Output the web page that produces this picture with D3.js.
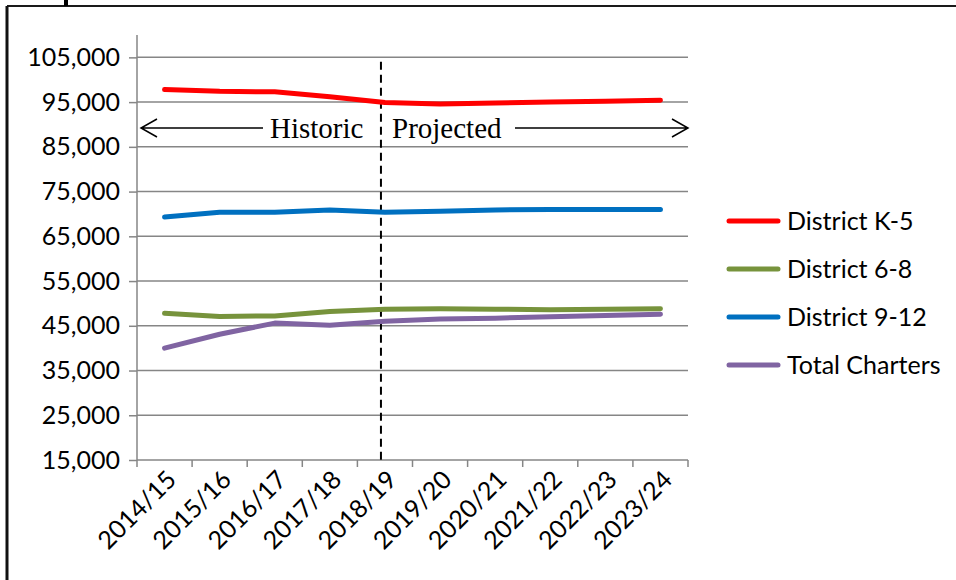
<!DOCTYPE html>
<html>
<head>
<meta charset="utf-8">
<script src="https://d3js.org/d3.v7.min.js"></script>
<style>
  body { margin: 0; background: #fff; }
  text { font-family: Lato, "Noto Sans", sans-serif; }
</style>
</head>
<body>
<svg id="chart" width="956" height="580"></svg>
<script>
// years on the x axis
const years = ["2014/15", "2015/16", "2016/17", "2017/18", "2018/19",
               "2019/20", "2020/21", "2021/22", "2022/23", "2023/24"];

// enrolment
const districtK5   = [97800, 97400, 97300, 96200, 94900, 94600, 94800, 95000, 95200, 95400];
const district68   = [47800, 47100, 47200, 48200, 48700, 48800, 48700, 48600, 48700, 48800];
const district912  = [69300, 70400, 70400, 70900, 70400, 70600, 70900, 71000, 71000, 71000];
const charters     = [40000, 43100, 45600, 45100, 46000, 46500, 46700, 47000, 47300, 47600];

const yTicks = [15000, 25000, 35000, 45000, 55000, 65000, 75000, 85000, 95000, 105000];

const seriesNames = ["District K-5", "District 6-8", "District 9-12", "Total Charters"];
const seriesColors = ["#ff0000", "#77933c", "#0070c0", "#8064a2"];
const seriesValues = [districtK5, district68, district912, charters];

const series = seriesNames.map((name, i) => ({ name, color: seriesColors[i], values: seriesValues[i] }));

const svg = d3.select("#chart");
const plot = { left: 137, right: 688, top: 35, bottom: 460 };
const fontSize = 25;

// outer frame (only top and left edges show in the crop)
svg.append("line").attr("x1", 7).attr("x2", 956).attr("y1", 6).attr("y2", 6)
    .attr("stroke", "#1a1a1a").attr("stroke-width", 2);
svg.append("line").attr("x1", 7).attr("x2", 7).attr("y1", 6).attr("y2", 580)
    .attr("stroke", "#111").attr("stroke-width", 3);
// bit of the cut-off title above the frame
svg.append("rect").attr("x", 64).attr("y", 0).attr("width", 4).attr("height", 6).attr("fill", "#000");

const x = d3.scaleBand().domain(years).range([plot.left, plot.right]);
const y = d3.scaleLinear().domain([15000, 110000]).range([plot.bottom, plot.top]);

// gridlines
svg.append("g")
    .selectAll("line")
    .data(yTicks.slice(1))
    .join("line")
    .attr("x1", plot.left).attr("x2", plot.right)
    .attr("y1", d => y(d)).attr("y2", d => y(d))
    .attr("stroke", "#868686").attr("stroke-width", 1.5);

// y axis
const yAxis = svg.append("g")
    .attr("transform", `translate(${plot.left},0)`)
    .call(d3.axisLeft(y).tickValues(yTicks).tickSize(8).tickPadding(9).tickFormat(d3.format(",")));
yAxis.select(".domain").attr("d", `M0,${plot.top}V${plot.bottom}`);
yAxis.selectAll("line, path").attr("stroke", "#868686").attr("stroke-width", 1.5);
yAxis.selectAll("text").attr("font-size", fontSize).attr("fill", "#000");

// x axis: ticks sit on the category boundaries
const xAxis = svg.append("g").attr("transform", `translate(0,${plot.bottom})`);
xAxis.append("line").attr("x1", plot.left).attr("x2", plot.right)
    .attr("stroke", "#868686").attr("stroke-width", 1.5);
const bounds = years.map(d => x(d)).concat([plot.right]);
xAxis.selectAll(".tick").data(bounds).join("line")
    .attr("class", "tick")
    .attr("x1", d => d).attr("x2", d => d).attr("y1", 0).attr("y2", 7)
    .attr("stroke", "#868686").attr("stroke-width", 1.5);
xAxis.selectAll(".lbl").data(years).join("text")
    .attr("class", "lbl")
    .attr("transform", d => `translate(${x(d) + x.bandwidth() / 2 + 7},${15}) rotate(-45)`)
    .attr("text-anchor", "end")
    .attr("dy", "0.35em")
    .attr("font-size", fontSize)
    .text(d => d);

// historic / projected divider
const divX = x("2018/19") + x.bandwidth() / 2 - 4;
svg.append("line")
    .attr("x1", divX).attr("x2", divX).attr("y1", y(104000)).attr("y2", plot.bottom)
    .attr("stroke", "#000").attr("stroke-width", 2).attr("stroke-dasharray", "8,5");

// series lines
const line = d3.line()
    .x((d, i) => x(years[i]) + x.bandwidth() / 2)
    .y(d => y(d));

svg.append("g")
    .selectAll("path")
    .data(series)
    .join("path")
    .attr("d", d => line(d.values))
    .attr("fill", "none")
    .attr("stroke", d => d.color)
    .attr("stroke-width", 5)
    .attr("stroke-linecap", "round")
    .attr("stroke-linejoin", "round");

// arrow annotation
const arrowY = 128;
const ann = svg.append("g").attr("stroke", "#000").attr("stroke-width", 1.5).attr("fill", "none");
ann.append("path").attr("d", `M141,${arrowY}H263 M157,${arrowY - 9}L141,${arrowY}L157,${arrowY + 9}`);
ann.append("path").attr("d", `M515,${arrowY}H688 M672,${arrowY - 9}L688,${arrowY}L672,${arrowY + 9}`);
svg.append("text").attr("x", 270).attr("y", arrowY).attr("dy", "0.33em")
    .style("font-family", "'Liberation Serif', serif").attr("font-size", 29)
    .text("Historic");
svg.append("text").attr("x", 392).attr("y", arrowY).attr("dy", "0.33em")
    .style("font-family", "'Liberation Serif', serif").attr("font-size", 29)
    .text("Projected");

// legend
const legend = svg.append("g").attr("transform", "translate(727,221)");
const item = legend.selectAll("g").data(series).join("g")
    .attr("transform", (d, i) => `translate(0,${i * 48})`);
item.append("line").attr("x1", 2).attr("x2", 51)
    .attr("stroke", d => d.color).attr("stroke-width", 5).attr("stroke-linecap", "round");
item.append("text").attr("x", 60).attr("dy", "0.35em").attr("font-size", fontSize).text(d => d.name);
</script>
</body>
</html>
